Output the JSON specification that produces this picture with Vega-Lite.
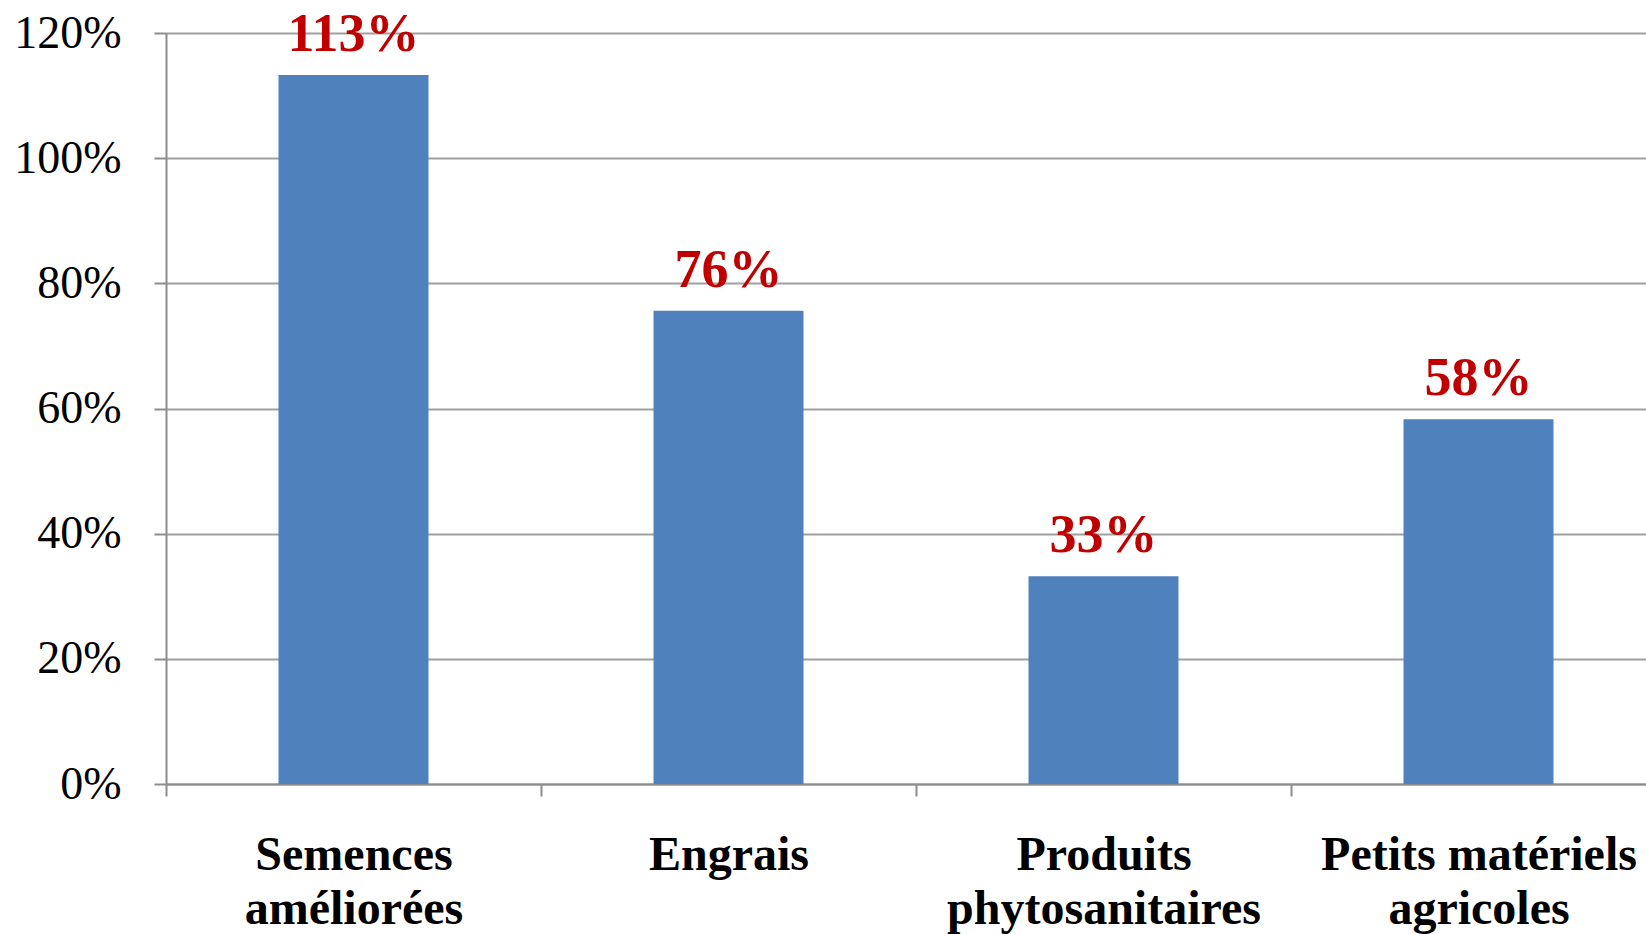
{
  "$schema": "https://vega.github.io/schema/vega-lite/v6.json",
  "width": 1480,
  "height": 751,
  "autosize": {"type": "none"},
  "padding": {"left": 166, "top": 33, "right": 0, "bottom": 150},
  "background": "white",
  "config": {
    "view": {"stroke": null},
    "font": "Liberation Serif"
  },
  "data": {
    "values": [
      {"cat": "Semences améliorées", "value": 1.133},
      {"cat": "Engrais", "value": 0.756},
      {"cat": "Produits phytosanitaires", "value": 0.332},
      {"cat": "Petits matériels agricoles", "value": 0.583}
    ]
  },
  "encoding": {
    "x": {
      "field": "cat",
      "type": "nominal",
      "sort": null,
      "title": null,
      "scale": {"range": [0, 1500], "paddingInner": 0, "paddingOuter": 0},
      "axis": {
        "labelAngle": 0,
        "labelFont": "Liberation Serif",
        "labelFontSize": 48,
        "labelFontWeight": "bold",
        "labelColor": "#000000",
        "labelLineHeight": 54,
        "labelPadding": 35,
        "labelBaseline": "top",
        "labelLimit": 0,
        "labelOverlap": false,
        "labelExpr": "datum.label == 'Semences améliorées' ? ['Semences', 'améliorées'] : datum.label == 'Produits phytosanitaires' ? ['Produits', 'phytosanitaires'] : datum.label == 'Petits matériels agricoles' ? ['Petits matériels', 'agricoles'] : datum.label",
        "tickBand": "extent",
        "tickSize": 12,
        "tickColor": "#8C8C8C",
        "tickWidth": 2,
        "domainColor": "#8C8C8C",
        "domainWidth": 2,
        "grid": false
      }
    },
    "y": {
      "field": "value",
      "type": "quantitative",
      "title": null,
      "scale": {"domain": [0, 1.2], "nice": false},
      "axis": {
        "values": [0, 0.2, 0.4, 0.6, 0.8, 1.0, 1.2],
        "format": ".0%",
        "labelFont": "Liberation Serif",
        "labelFontSize": 46,
        "labelColor": "#000000",
        "labelPadding": 33,
        "tickSize": 12,
        "tickColor": "#8C8C8C",
        "tickWidth": 2,
        "domainColor": "#8C8C8C",
        "domainWidth": 2,
        "grid": true,
        "gridColor": "#A0A0A0",
        "gridWidth": 2
      }
    }
  },
  "layer": [
    {"mark": {"type": "bar", "color": "#4F81BD", "width": {"band": 0.4}}},
    {
      "mark": {
        "type": "text",
        "font": "Liberation Serif",
        "fontSize": 54,
        "fontWeight": "bold",
        "color": "#C00000",
        "baseline": "alphabetic",
        "dy": -24
      },
      "encoding": {"text": {"field": "value", "type": "quantitative", "format": ".0%"}}
    }
  ]
}
